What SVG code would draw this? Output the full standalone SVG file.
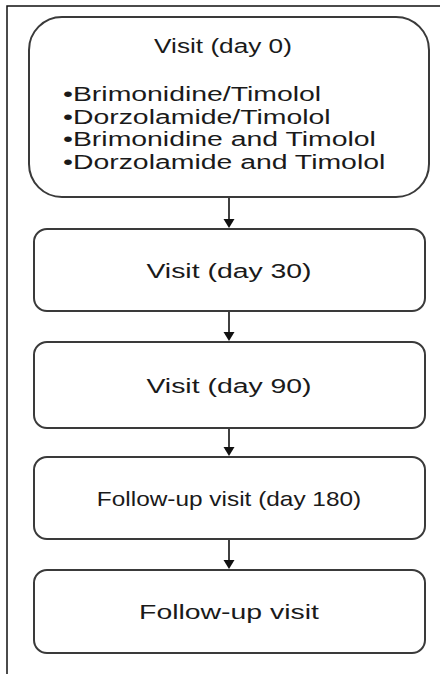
<svg xmlns="http://www.w3.org/2000/svg" width="440" height="674" viewBox="0 0 440 674">
<style>
.box{fill:#fff;stroke:#3a3a3a;stroke-width:2}
.t{font-family:"Liberation Sans",Arial,sans-serif;font-size:20px;fill:#1a1a1a}
.c{text-anchor:middle}
.conn{stroke:#111;stroke-width:1.6;fill:none}
</style>
<rect x="0" y="0" width="440" height="674" fill="#fff"/>
<g id="frame"><path d="M7,674 L7,6 L440,6" fill="none" stroke="#111" stroke-width="1.5"/></g>
<g id="n0">
<rect class="box" x="29" y="17" width="400" height="180" rx="33" ry="33"/>
<text class="t c" transform="translate(223,53) scale(1.31,1)">Visit (day 0)</text>
<text class="t" transform="translate(63,101) scale(1.42,1)">•Brimonidine/Timolol</text>
<text class="t" transform="translate(63,123.5) scale(1.42,1)">•Dorzolamide/Timolol</text>
<text class="t" transform="translate(63,146) scale(1.42,1)">•Brimonidine and Timolol</text>
<text class="t" transform="translate(63,168.5) scale(1.42,1)">•Dorzolamide and Timolol</text>
</g>
<g id="n1">
<rect class="box" x="34" y="229" width="391" height="82" rx="13" ry="13"/>
<text class="t c" transform="translate(229,278) scale(1.42,1)">Visit (day 30)</text>
</g>
<g id="n2">
<rect class="box" x="34" y="342" width="391" height="86" rx="13" ry="13"/>
<text class="t c" transform="translate(229,392.5) scale(1.42,1)">Visit (day 90)</text>
</g>
<g id="n3">
<rect class="box" x="34" y="457" width="391" height="82" rx="13" ry="13"/>
<text class="t c" transform="translate(229,505.5) scale(1.22,1)">Follow-up visit (day 180)</text>
</g>
<g id="n4">
<rect class="box" x="34" y="570" width="391" height="83" rx="13" ry="13"/>
<text class="t c" transform="translate(229,618.5) scale(1.42,1)">Follow-up visit</text>
</g>
<g id="connectors">
<path class="conn" d="M229,198 L229,220"/>
<path d="M223.5,219 L234.5,219 L229,228 Z" fill="#111"/>
<path class="conn" d="M229,312 L229,333"/>
<path d="M223.5,332 L234.5,332 L229,341 Z" fill="#111"/>
<path class="conn" d="M229,429 L229,448"/>
<path d="M223.5,447 L234.5,447 L229,456 Z" fill="#111"/>
<path class="conn" d="M229,540 L229,561"/>
<path d="M223.5,560 L234.5,560 L229,569 Z" fill="#111"/>
</g>
</svg>
